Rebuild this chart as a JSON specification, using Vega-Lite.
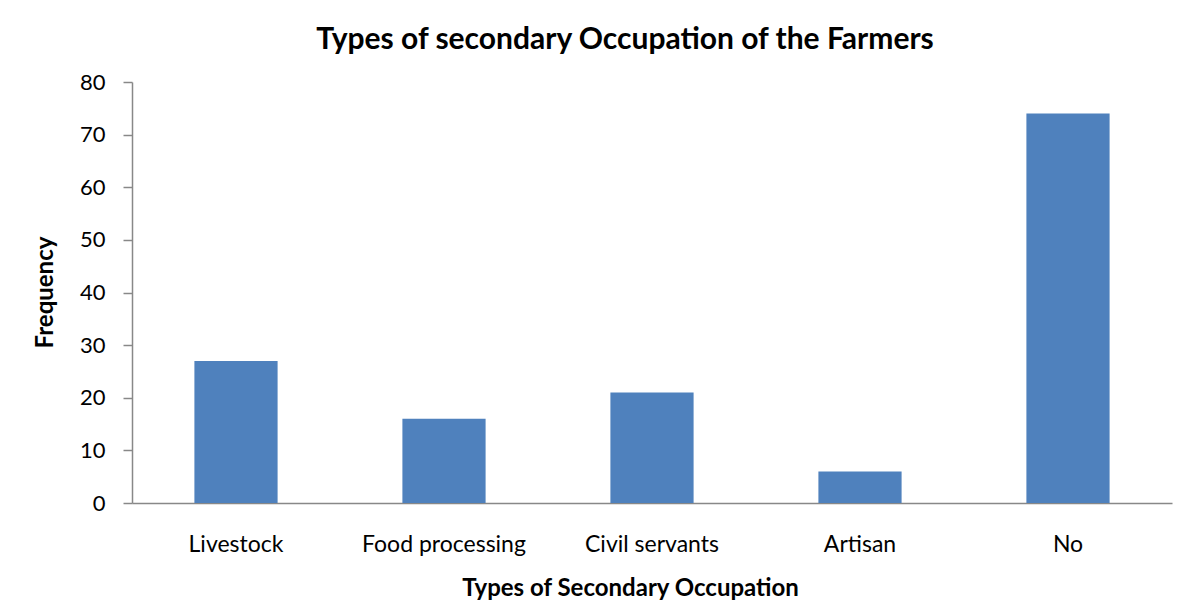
{
  "$schema": "https://vega.github.io/schema/vega-lite/v6.json",
  "width": 1040,
  "height": 421,
  "autosize": "none",
  "padding": {"left": 132, "top": 82, "right": 9, "bottom": 113},
  "background": "white",
  "data": {
    "values": [
      {"occupation": "Livestock", "frequency": 27},
      {"occupation": "Food processing", "frequency": 16},
      {"occupation": "Civil servants", "frequency": 21},
      {"occupation": "Artisan", "frequency": 6},
      {"occupation": "No", "frequency": 74}
    ]
  },
  "title": {
    "text": "Types of secondary Occupation of the Farmers",
    "font": "Lato",
    "fontSize": 30,
    "fontWeight": "bold",
    "color": "black",
    "anchor": "middle",
    "frame": "group",
    "baseline": "alphabetic",
    "dx": -27,
    "dy": 38,
    "offset": 30
  },
  "mark": {"type": "bar", "color": "#4F81BD"},
  "encoding": {
    "x": {
      "field": "occupation",
      "type": "nominal",
      "sort": null,
      "scale": {"paddingInner": 0.6, "paddingOuter": 0.3},
      "axis": {
        "title": "Types of Secondary Occupation",
        "titleFont": "Lato",
        "titleFontSize": 24,
        "titleFontWeight": "bold",
        "titleColor": "black",
        "titleX": 498,
        "titleY": 92,
        "titleBaseline": "alphabetic",
        "labelAngle": 0,
        "labelFont": "Lato",
        "labelFontSize": 23,
        "labelColor": "black",
        "labelPadding": 30,
        "ticks": false,
        "domainColor": "#888888",
        "domainWidth": 1.5
      }
    },
    "y": {
      "field": "frequency",
      "type": "quantitative",
      "scale": {"domain": [0, 80]},
      "axis": {
        "title": "Frequency",
        "titleFont": "Lato",
        "titleFontSize": 24,
        "titleFontWeight": "bold",
        "titleColor": "black",
        "titleX": -87,
        "titleY": 210,
        "titleAlign": "center",
        "titleBaseline": "middle",
        "values": [0, 10, 20, 30, 40, 50, 60, 70, 80],
        "grid": false,
        "labelFont": "Lato",
        "labelFontSize": 22,
        "labelColor": "black",
        "labelPadding": 18,
        "tickSize": 9,
        "tickColor": "#888888",
        "tickWidth": 1.5,
        "domainColor": "#888888",
        "domainWidth": 1.5
      }
    }
  },
  "config": {"view": {"stroke": null}}
}
